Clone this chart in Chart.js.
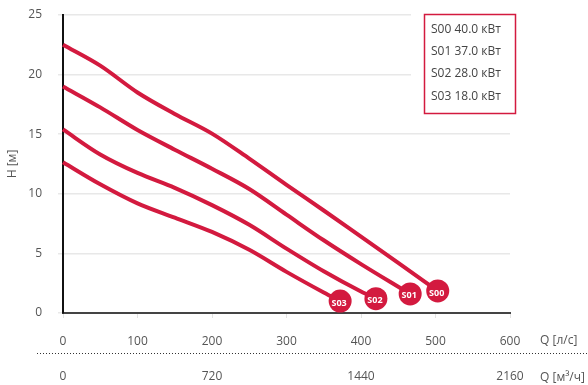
<!DOCTYPE html>
<html><head><meta charset="utf-8">
<script src="https://cdn.jsdelivr.net/npm/chart.js@4"></script>
<style>html,body{margin:0;padding:0;background:#fff}#wrap{width:588px;height:385px}</style>
</head><body><div id="wrap"><canvas id="c" width="588" height="385"></canvas></div>
<script>
const seriesNames = ['S00','S01','S02','S03'];
const powers = ['40.0 кВт','37.0 кВт','28.0 кВт','18.0 кВт'];
const qS00 = [0,50,100,150,200,250,300,350,400,450,503];
const hS00 = [22.5,20.75,18.5,16.7,15.05,12.95,10.75,8.6,6.4,4.2,1.85];
const qS01 = [0,50,100,150,200,250,300,350,400,450,466];
const hS01 = [19.0,17.25,15.35,13.7,12.1,10.4,8.25,6.1,4.1,2.2,1.6];
const qS02 = [0,50,100,150,200,250,300,350,400,420];
const hS02 = [15.4,13.3,11.75,10.5,9.05,7.4,5.4,3.5,1.8,1.2];
const qS03 = [0,50,100,150,200,250,300,350,372];
const hS03 = [12.65,10.8,9.2,8.0,6.8,5.3,3.45,1.72,1.0];
const xTicksLs = [0,100,200,300,400,500,600];
const xTicksM3h = [0,720,1440,2160];
const yTicks = [0,5,10,15,20,25];
const xTitle1 = 'Q [л/с]', xTitle2 = 'Q [м³/ч]', yTitle = 'H [м]';

const RED = '#d31a3f';
const FONT = "'Open Sans', sans-serif";
const qs = [qS00,qS01,qS02,qS03], hs = [hS00,hS01,hS02,hS03];
const datasets = seriesNames.map((n,i)=>({
  label: n,
  data: qs[i].map((q,j)=>({x:q,y:hs[i][j]})),
  borderColor: RED, backgroundColor: RED, borderWidth: 4,
  cubicInterpolationMode: 'monotone',
  pointRadius: qs[i].map((q,j)=> j===qs[i].length-1 ? 11.5 : 0),
  pointHoverRadius: 0, pointBorderWidth: 0,
  clip: false
}));

const overlay = {
  id: 'overlay',
  afterDatasetsDraw(chart){
    const ctx = chart.ctx;
    ctx.save();
    ctx.fillStyle = '#fff'; ctx.font = "bold 9px " + FONT;
    ctx.textAlign = 'center'; ctx.textBaseline = 'middle';
    chart.data.datasets.forEach((d,i)=>{
      const meta = chart.getDatasetMeta(i);
      const p = meta.data[meta.data.length-1];
      ctx.fillText(d.label, p.x - 1, p.y + 2);
    });
    ctx.restore();
  },
  afterDraw(chart){
    const ctx = chart.ctx, ca = chart.chartArea;
    ctx.save();
    ctx.fillStyle = '#fff';
    ctx.fillRect(411, 10, 110, 108);
    ctx.strokeStyle = RED; ctx.lineWidth = 1.5;
    ctx.strokeRect(424.5, 14.5, 91, 99);
    ctx.fillStyle = '#444'; ctx.font = "12px " + FONT;
    ctx.textAlign = 'left'; ctx.textBaseline = 'middle';
    const rowsY = [30, 52, 74, 97];
    seriesNames.forEach((n,i)=>{ ctx.fillText(n + ' ' + powers[i], 431, rowsY[i]); });
    ctx.strokeStyle = '#333'; ctx.lineWidth = 1; ctx.setLineDash([1,2]);
    ctx.beginPath(); ctx.moveTo(37, 353.5); ctx.lineTo(588, 353.5); ctx.stroke();
    ctx.setLineDash([]);
    ctx.fillStyle = '#555'; ctx.font = "12px " + FONT;
    ctx.textAlign = 'left'; ctx.textBaseline = 'middle';
    ctx.fillText(xTitle1, ca.right + 30, 341);
    ctx.fillText(xTitle2, ca.right + 30, 378);
    ctx.restore();
  }
};

new Chart(document.getElementById('c'), {
  type: 'line',
  data: { datasets },
  options: {
    responsive: false, animation: false, maintainAspectRatio: false,
    layout: { padding: { top: 0, right: 78, left: 0, bottom: 0 } },
    plugins: { legend: { display: false }, tooltip: { enabled: false } },
    scales: {
      x: {
        type: 'linear', position: 'bottom', min: 0, max: 600,
        afterBuildTicks: s => { s.ticks = xTicksLs.map(v=>({value:v})); },
        ticks: { color: '#555', font: { family: FONT, size: 12 }, padding: 16, maxRotation: 0, callback: v => String(v) },
        grid: { drawOnChartArea: false, drawTicks: true, tickLength: 5, color: '#e3e3e3' },
        border: { color: '#444', width: 2 },
        afterFit: s => { s.height = 39; }
      },
      x2: {
        type: 'linear', position: 'bottom', min: 0, max: 2160,
        afterBuildTicks: s => { s.ticks = xTicksM3h.map(v=>({value:v})); },
        ticks: { color: '#555', font: { family: FONT, size: 12 }, padding: 17, maxRotation: 0, callback: v => String(v) },
        grid: { display: false, drawTicks: false }, border: { display: false },
        afterFit: s => { s.height = 33; }
      },
      y: {
        min: 0, max: 25,
        afterBuildTicks: s => { s.ticks = yTicks.map(v=>({value:v})); },
        ticks: { color: '#555', font: { family: FONT, size: 12 }, padding: 16 },
        grid: { color: '#e8e8e8', lineWidth: 1.5, tickLength: 5 },
        border: { color: '#111', width: 2 },
        title: { display: true, text: yTitle, color: '#555', font: { family: FONT, size: 12 }, padding: { top: 5, bottom: 0 } },
        afterFit: s => { s.width = 63; s.paddingTop = 15; s.paddingBottom = 0; }
      }
    }
  },
  plugins: [overlay]
});
</script></body></html>
